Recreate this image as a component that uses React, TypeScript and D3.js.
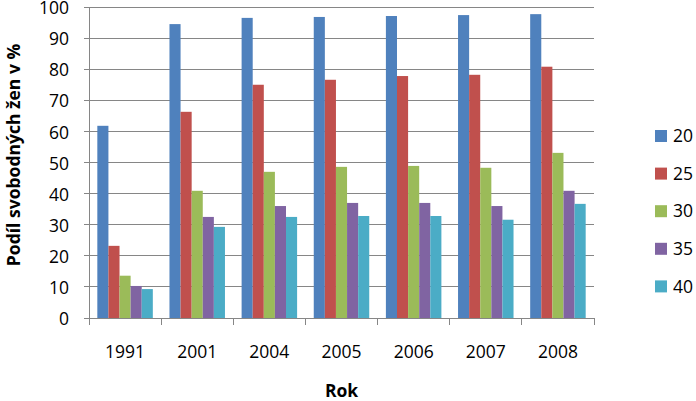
import React from "react";
import * as d3 from "d3";

const years = ["1991", "2001", "2004", "2005", "2006", "2007", "2008"];
const seriesNames = ["20", "25", "30", "35", "40"];
const s20 = [61.8, 94.5, 96.5, 96.8, 97.1, 97.4, 97.7];
const s25 = [23.2, 66.3, 75.0, 76.6, 77.8, 78.2, 80.8];
const s30 = [13.6, 40.9, 47.0, 48.6, 48.9, 48.3, 53.1];
const s35 = [10.3, 32.5, 36.0, 37.0, 37.0, 36.0, 40.9];
const s40 = [9.3, 29.3, 32.5, 32.8, 32.8, 31.6, 36.7];
const yTicks = [0, 10, 20, 30, 40, 50, 60, 70, 80, 90, 100];
const colors = ["#4F81BD", "#C0504D", "#9BBB59", "#8064A2", "#4BACC6"];

const allSeries = [s20, s25, s30, s35, s40];

export default function App() {
  const W = 696, H = 401;
  const left = 89, right = 594, top = 7, bottom = 318;
  const font = "'Open Sans', sans-serif";
  const x0 = d3.scaleBand<string>().domain(years).range([left, right]).padding(0);
  const x1 = d3.scaleBand<string>().domain(seriesNames).range([0, x0.bandwidth()]).paddingInner(0).paddingOuter(0.75);
  const y = d3.scaleLinear().domain([0, 100]).range([bottom, top]);
  const grid = "#868686";

  return (
    <svg width={W} height={H} style={{ position: "absolute", left: 0, top: 0 }}>
      <rect x={0} y={0} width={W} height={H} fill="#fff" />
      {yTicks.filter((t) => t > 0).map((t) => (
        <line key={"g" + t} x1={left} x2={right} y1={y(t)} y2={y(t)} stroke={grid} strokeWidth={1} shapeRendering="crispEdges" />
      ))}
      {years.map((yr, i) =>
        allSeries.map((s, j) => (
          <rect
            key={yr + j}
            x={x0(yr)! + x1(seriesNames[j])!}
            y={y(s[i])}
            width={x1.bandwidth()}
            height={y(0) - y(s[i])}
            fill={colors[j]}
          />
        ))
      )}
      <line x1={left} x2={left} y1={top} y2={bottom} stroke={grid} shapeRendering="crispEdges" />
      <line x1={left} x2={right} y1={bottom} y2={bottom} stroke={grid} shapeRendering="crispEdges" />
      {yTicks.map((t) => (
        <g key={"yt" + t}>
          <line x1={left - 5} x2={left} y1={y(t)} y2={y(t)} stroke={grid} shapeRendering="crispEdges" />
          <text x={69} y={y(t) + 1} dy="0.35em" textAnchor="end" fontFamily={font} fontSize={17.5} fill="#000">
            {t}
          </text>
        </g>
      ))}
      {[...years.map((yr) => x0(yr)!), right].map((xx, i) => (
        <line key={"xt" + i} x1={xx} x2={xx} y1={bottom} y2={bottom + 7} stroke={grid} shapeRendering="crispEdges" />
      ))}
      {years.map((yr) => (
        <text key={"xl" + yr} x={x0(yr)! + x0.bandwidth() / 2} y={358} textAnchor="middle" fontFamily={font} fontSize={17.5} fill="#000">
          {yr}
        </text>
      ))}
      <text x={(left + right) / 2} y={397} textAnchor="middle" fontFamily={font} fontWeight="bold" fontSize={17.5} fill="#000">
        Rok
      </text>
      <text
        transform={`translate(20, 155) rotate(-90)`}
        textAnchor="middle"
        fontFamily={font}
        fontWeight="bold"
        fontSize={17.5}
        fill="#000"
      >
        Podíl svobodných žen v %
      </text>
      {seriesNames.map((n, j) => {
        const cy = 136 + j * 37.6;
        return (
          <g key={"lg" + n}>
            <rect x={655} y={cy - 6} width={12} height={12} fill={colors[j]} />
            <text x={673} y={cy} dy="0.35em" fontFamily={font} fontSize={17.5} fill="#000">
              {n}
            </text>
          </g>
        );
      })}
    </svg>
  );
}
